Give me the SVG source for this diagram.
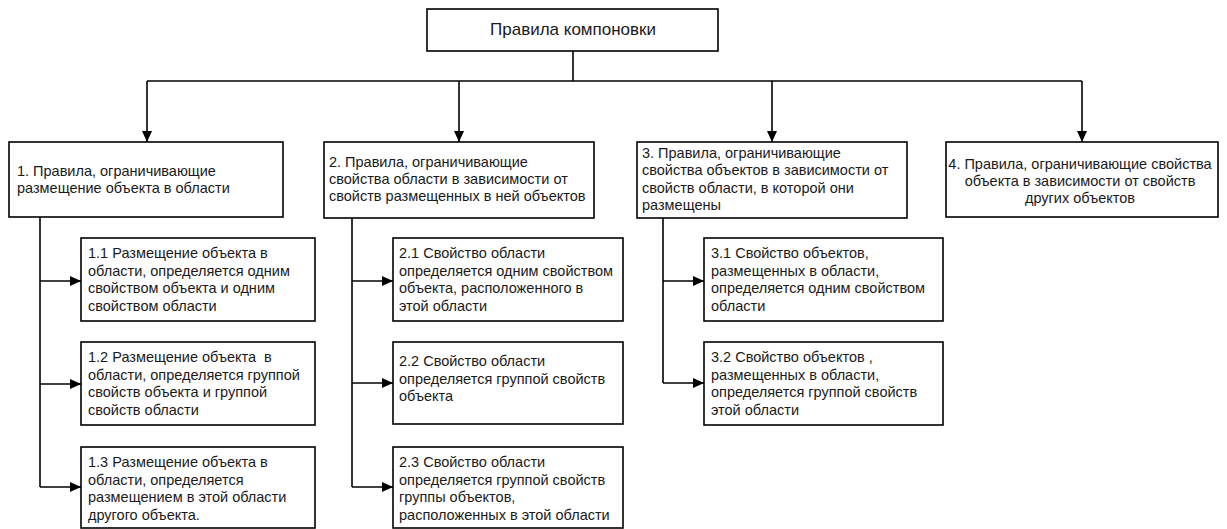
<svg xmlns="http://www.w3.org/2000/svg" width="1227" height="529" viewBox="0 0 1227 529">
<style>
.box{fill:#fff;stroke:#000;stroke-width:1.6}
.t{font-family:"Liberation Sans",Arial,sans-serif;font-size:14.5px;fill:#1a1a1a}
.c{text-anchor:middle}
.ln{fill:none;stroke:#000;stroke-width:1.6}
</style>
<defs>
<marker id="ah" markerWidth="11" markerHeight="10" refX="11" refY="5" orient="auto" markerUnits="userSpaceOnUse">
<path d="M0,0 L11,5 L0,10 Z" fill="#000"/>
</marker>
</defs>
<rect width="1227" height="529" fill="#fff"/>
<g id="connectors">
<path class="ln" d="M573,51 V81"/>
<path class="ln" d="M147,81 H1082"/>
<path class="ln" d="M147,81 V142" marker-end="url(#ah)"/>
<path class="ln" d="M459,81 V142" marker-end="url(#ah)"/>
<path class="ln" d="M772,81 V142" marker-end="url(#ah)"/>
<path class="ln" d="M1082,81 V142" marker-end="url(#ah)"/>
<path class="ln" d="M40,217 V487"/>
<path class="ln" d="M40,281 H81" marker-end="url(#ah)"/>
<path class="ln" d="M40,384 H81" marker-end="url(#ah)"/>
<path class="ln" d="M40,487 H81" marker-end="url(#ah)"/>
<path class="ln" d="M352,218 V487"/>
<path class="ln" d="M352,281 H393" marker-end="url(#ah)"/>
<path class="ln" d="M352,383 H393" marker-end="url(#ah)"/>
<path class="ln" d="M352,487 H393" marker-end="url(#ah)"/>
<path class="ln" d="M663,218 V383"/>
<path class="ln" d="M663,281 H704" marker-end="url(#ah)"/>
<path class="ln" d="M663,383 H704" marker-end="url(#ah)"/>
</g>
<g id="root">
<rect class="box" x="427" y="9" width="291" height="42"/>
<text class="t c" x="573" y="35" style="font-size:17px">Правила компоновки</text>
</g>
<g id="n1">
<rect class="box" x="9" y="142" width="274" height="75"/>
<text class="t" x="17" y="176">1. Правила, ограничивающие</text>
<text class="t" x="17" y="193">размещение объекта в области</text>
</g>
<g id="n2">
<rect class="box" x="324" y="142" width="270" height="76"/>
<text class="t" x="329" y="167">2. Правила, ограничивающие</text>
<text class="t" x="329" y="184">свойства области в зависимости от</text>
<text class="t" x="329" y="201">свойств размещенных в ней объектов</text>
</g>
<g id="n3">
<rect class="box" x="637" y="142" width="270" height="76"/>
<text class="t" x="642" y="158">3. Правила, ограничивающие</text>
<text class="t" x="642" y="175">свойства объектов в зависимости от</text>
<text class="t" x="642" y="193">свойств области, в которой они</text>
<text class="t" x="642" y="210">размещены</text>
</g>
<g id="n4">
<rect class="box" x="946" y="142" width="272" height="75"/>
<text class="t c" x="1080" y="169">4. Правила, ограничивающие свойства</text>
<text class="t c" x="1080" y="186">объекта в зависимости от свойств</text>
<text class="t c" x="1080" y="203">других объектов</text>
</g>
<g id="n11">
<rect class="box" x="81" y="238" width="234" height="83"/>
<text class="t" x="88" y="258">1.1 Размещение объекта в</text>
<text class="t" x="88" y="276">области, определяется одним</text>
<text class="t" x="88" y="293">свойством объекта и одним</text>
<text class="t" x="88" y="311">свойством области</text>
</g>
<g id="n12">
<rect class="box" x="81" y="342" width="234" height="83"/>
<text class="t" x="88" y="362" xml:space="preserve">1.2 Размещение объекта  в</text>
<text class="t" x="88" y="380">области, определяется группой</text>
<text class="t" x="88" y="397">свойств объекта и группой</text>
<text class="t" x="88" y="415">свойств области</text>
</g>
<g id="n13">
<rect class="box" x="81" y="447" width="234" height="81"/>
<text class="t" x="88" y="467">1.3 Размещение объекта в</text>
<text class="t" x="88" y="485">области, определяется</text>
<text class="t" x="88" y="502">размещением в этой области</text>
<text class="t" x="88" y="520">другого объекта.</text>
</g>
<g id="n21">
<rect class="box" x="393" y="238" width="230" height="83"/>
<text class="t" x="399" y="258">2.1 Свойство области</text>
<text class="t" x="399" y="276">определяется одним свойством</text>
<text class="t" x="399" y="293">объекта, расположенного в</text>
<text class="t" x="399" y="311">этой области</text>
</g>
<g id="n22">
<rect class="box" x="393" y="342" width="230" height="82"/>
<text class="t" x="399" y="366">2.2 Свойство области</text>
<text class="t" x="399" y="384">определяется группой свойств</text>
<text class="t" x="399" y="401">объекта</text>
</g>
<g id="n23">
<rect class="box" x="393" y="447" width="230" height="81"/>
<text class="t" x="399" y="467">2.3 Свойство области</text>
<text class="t" x="399" y="485">определяется группой свойств</text>
<text class="t" x="399" y="502">группы объектов,</text>
<text class="t" x="399" y="520">расположенных в этой области</text>
</g>
<g id="n31">
<rect class="box" x="704" y="238" width="239" height="83"/>
<text class="t" x="711" y="258">3.1 Свойство объектов,</text>
<text class="t" x="711" y="276">размещенных в области,</text>
<text class="t" x="711" y="293">определяется одним свойством</text>
<text class="t" x="711" y="311">области</text>
</g>
<g id="n32">
<rect class="box" x="704" y="342" width="239" height="83"/>
<text class="t" x="711" y="362">3.2 Свойство объектов ,</text>
<text class="t" x="711" y="380">размещенных в области,</text>
<text class="t" x="711" y="397">определяется группой свойств</text>
<text class="t" x="711" y="415">этой области</text>
</g>
</svg>
